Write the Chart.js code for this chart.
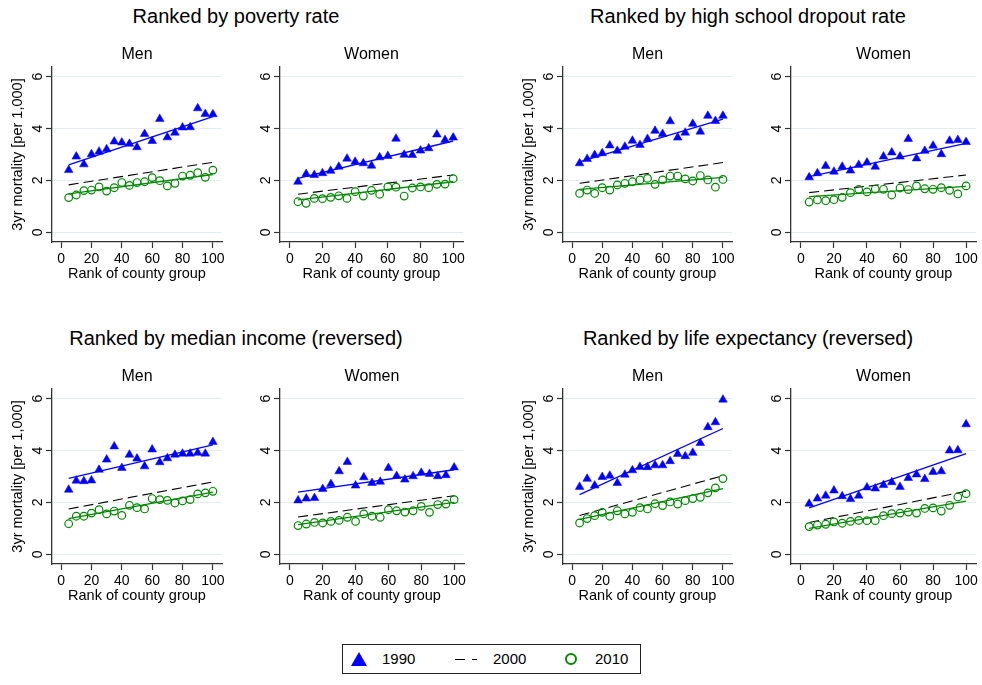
<!DOCTYPE html>
<html>
<head>
<meta charset="utf-8">
<script src="https://cdn.jsdelivr.net/npm/chart.js@4.4.1/dist/chart.umd.min.js"></script>
<style>
  body { margin: 0; background: #fff; font-family: "Liberation Sans", Arial, sans-serif; }
  #page { position: relative; width: 982px; height: 685px; overflow: hidden; background: #fff; }
  .bigtitle { position: absolute; width: 490px; text-align: center; font-size: 20px; line-height: 24px; color: #000; }
  canvas { position: absolute; }
  #legend { position: absolute; left: 342px; top: 644px; width: 299px; height: 30px; border: 1px solid #222; box-sizing: border-box; }
  #legend span { position: absolute; top: 0; line-height: 28px; font-size: 15px; color: #000; }
  .tri { position: absolute; width: 0; height: 0; border-left: 8.5px solid transparent; border-right: 8.5px solid transparent; border-bottom: 14px solid #0000ff; }
  .dash { position: absolute; height: 1.4px; background: #000; }
  .ring { position: absolute; width: 12px; height: 12px; border: 2.3px solid #008800; border-radius: 50%; box-sizing: border-box; }
</style>
</head>
<body>
<div id="page">
  <div class="bigtitle" style="left:-9px; top:4px;">Ranked by poverty rate</div>
  <div class="bigtitle" style="left:503px; top:4px;">Ranked by high school dropout rate</div>
  <div class="bigtitle" style="left:-9px; top:326px;">Ranked by median income (reversed)</div>
  <div class="bigtitle" style="left:503px; top:326px;">Ranked by life expectancy (reversed)</div>
  <div id="legend">
    <div class="tri" style="left:8px; top:7px;"></div>
    <span style="left:39px;">1990</span>
    <div class="dash" style="left:112px; top:14px; width:10px;"></div>
    <div class="dash" style="left:129px; top:14px; width:5px;"></div>
    <span style="left:150px;">2000</span>
    <div class="ring" style="left:222px; top:8px;"></div>
    <span style="left:252px;">2010</span>
  </div>
</div>
<script>
// rank of county group (x) and axis ticks
const rank = [5, 10, 15, 20, 25, 30, 35, 40, 45, 50, 55, 60, 65, 70, 75, 80, 85, 90, 95, 100];
const xTicks = [0, 20, 40, 60, 80, 100];
const yTicks = [0, 2, 4, 6];

// 3yr mortality per 1,000
const povertyMen1990 = [2.40, 2.92, 2.62, 3.01, 3.11, 3.20, 3.50, 3.46, 3.41, 3.28, 3.79, 3.52, 4.37, 3.66, 3.84, 4.04, 4.05, 4.78, 4.56, 4.55];
const povertyMen2010 = [1.34, 1.44, 1.61, 1.63, 1.75, 1.59, 1.72, 1.92, 1.81, 1.92, 1.95, 2.11, 1.99, 1.79, 1.89, 2.17, 2.20, 2.30, 2.12, 2.40];
const povertyWomen1990 = [1.95, 2.25, 2.21, 2.28, 2.37, 2.53, 2.84, 2.72, 2.66, 2.57, 2.89, 2.94, 3.61, 2.99, 2.98, 3.15, 3.24, 3.77, 3.56, 3.65];
const povertyWomen2010 = [1.18, 1.12, 1.31, 1.30, 1.35, 1.41, 1.31, 1.57, 1.40, 1.62, 1.47, 1.75, 1.74, 1.40, 1.71, 1.75, 1.72, 1.85, 1.86, 2.07];
const dropoutMen1990 = [2.66, 2.83, 2.98, 3.05, 3.35, 3.14, 3.30, 3.53, 3.37, 3.60, 3.91, 3.79, 4.28, 3.65, 3.84, 4.18, 3.88, 4.49, 4.29, 4.49];
const dropoutMen2010 = [1.50, 1.63, 1.50, 1.72, 1.63, 1.83, 1.89, 1.95, 2.02, 2.08, 1.85, 2.02, 2.17, 2.17, 2.06, 1.98, 2.19, 2.02, 1.74, 2.04];
const dropoutWomen1990 = [2.12, 2.28, 2.56, 2.34, 2.53, 2.38, 2.60, 2.69, 2.53, 2.92, 3.08, 2.92, 3.60, 2.85, 3.14, 3.34, 3.01, 3.53, 3.56, 3.48];
const dropoutWomen2010 = [1.17, 1.25, 1.22, 1.26, 1.35, 1.53, 1.66, 1.56, 1.67, 1.66, 1.44, 1.71, 1.65, 1.79, 1.68, 1.66, 1.72, 1.62, 1.48, 1.79];
const incomeMen1990 = [2.49, 2.84, 2.82, 2.85, 3.26, 3.65, 4.16, 3.33, 3.84, 3.69, 3.39, 4.04, 3.55, 3.70, 3.84, 3.88, 3.88, 3.91, 3.88, 4.33];
const incomeMen2010 = [1.18, 1.47, 1.47, 1.59, 1.72, 1.56, 1.67, 1.50, 1.89, 1.80, 1.75, 2.15, 2.11, 2.08, 1.98, 2.06, 2.11, 2.33, 2.37, 2.43];
const incomeWomen1990 = [2.08, 2.15, 2.17, 2.52, 2.71, 3.20, 3.56, 2.65, 2.97, 2.75, 2.80, 3.33, 3.02, 2.88, 3.01, 3.14, 3.10, 3.01, 3.05, 3.35];
const incomeWomen2010 = [1.11, 1.17, 1.23, 1.21, 1.27, 1.31, 1.43, 1.27, 1.56, 1.47, 1.43, 1.72, 1.68, 1.63, 1.68, 1.85, 1.62, 1.92, 1.94, 2.11];
const lifeMen1990 = [2.60, 2.91, 2.65, 2.98, 3.03, 2.75, 3.07, 3.24, 3.37, 3.36, 3.43, 3.43, 3.59, 3.87, 3.78, 3.91, 4.29, 4.90, 5.09, 5.96];
const lifeMen2010 = [1.21, 1.38, 1.49, 1.62, 1.47, 1.68, 1.56, 1.62, 1.80, 1.75, 1.95, 1.88, 2.02, 1.94, 2.07, 2.15, 2.20, 2.37, 2.56, 2.92];
const lifeWomen1990 = [1.95, 2.15, 2.26, 2.46, 2.24, 2.13, 2.26, 2.58, 2.54, 2.67, 2.78, 2.60, 2.94, 3.08, 2.90, 3.17, 3.20, 4.00, 4.01, 5.01];
const lifeWomen2010 = [1.07, 1.13, 1.16, 1.25, 1.20, 1.27, 1.31, 1.30, 1.30, 1.49, 1.57, 1.59, 1.63, 1.59, 1.77, 1.79, 1.67, 1.89, 2.21, 2.34];

// fitted lines, value at rank 5 and rank 100: [1990, 2000, 2010]
const fitX = [5, 100];
const povertyMenFits = [[2.60, 4.46], [1.83, 2.70], [1.48, 2.23]];
const povertyWomenFits = [[2.08, 3.52], [1.47, 2.21], [1.25, 1.95]];
const dropoutMenFits = [[2.72, 4.36], [1.89, 2.69], [1.66, 2.12]];
const dropoutWomenFits = [[2.15, 3.43], [1.53, 2.21], [1.38, 1.77]];
const incomeMenFits = [[2.93, 4.22], [1.75, 2.79], [1.38, 2.40]];
const incomeWomenFits = [[2.40, 3.26], [1.44, 2.26], [1.15, 2.00]];
const lifeMenFits = [[2.30, 4.85], [1.50, 3.03], [1.35, 2.53]];
const lifeWomenFits = [[1.79, 3.88], [1.23, 2.43], [1.00, 2.05]];

const BLUE = '#0000ff';
const GREEN = '#008800';
const AXIS = '#333333';
const GRID = '#e3ecef';
const FONT = '"Liberation Sans", Arial, sans-serif';

Chart.defaults.font.family = FONT;
Chart.defaults.color = '#000';

// panel placement: plot area edges in page pixels
const panels = [
    { label: 'Men', yTitle: true, left: 52, right: 222, top: 67, bottom: 242, s90: povertyMen1990, s10: povertyMen2010, fits: povertyMenFits },
    { label: 'Women', yTitle: false, left: 280, right: 463, top: 67, bottom: 242, s90: povertyWomen1990, s10: povertyWomen2010, fits: povertyWomenFits },
    { label: 'Men', yTitle: true, left: 563, right: 732, top: 67, bottom: 242, s90: dropoutMen1990, s10: dropoutMen2010, fits: dropoutMenFits },
    { label: 'Women', yTitle: false, left: 791, right: 976, top: 67, bottom: 242, s90: dropoutWomen1990, s10: dropoutWomen2010, fits: dropoutWomenFits },
    { label: 'Men', yTitle: true, left: 52, right: 222, top: 389, bottom: 564, s90: incomeMen1990, s10: incomeMen2010, fits: incomeMenFits },
    { label: 'Women', yTitle: false, left: 280, right: 464, top: 389, bottom: 564, s90: incomeWomen1990, s10: incomeWomen2010, fits: incomeWomenFits },
    { label: 'Men', yTitle: true, left: 563, right: 732, top: 389, bottom: 564, s90: lifeMen1990, s10: lifeMen2010, fits: lifeMenFits },
    { label: 'Women', yTitle: false, left: 791, right: 976, top: 389, bottom: 564, s90: lifeWomen1990, s10: lifeWomen2010, fits: lifeWomenFits }
];

// subtitle, rotated y tick labels and y title
const panelText = {
    id: 'panelText',
    afterDraw(chart, args, opts) {
        const ctx = chart.ctx;
        const a = chart.chartArea;
        const ys = chart.scales.y;
        ctx.save();
        ctx.fillStyle = '#000';
        ctx.textAlign = 'center';
        ctx.textBaseline = 'middle';
        ctx.font = '16px ' + FONT;
        ctx.fillText(opts.label, (a.left + a.right) / 2, a.top - 12);
        ctx.font = '14px ' + FONT;
        yTicks.forEach(v => {
            ctx.save();
            ctx.translate(a.left - 14, ys.getPixelForValue(v));
            ctx.rotate(-Math.PI / 2);
            ctx.fillText(String(v), 0, 0);
            ctx.restore();
        });
        if (opts.yTitle) {
            ctx.font = '14.5px ' + FONT;
            ctx.translate(a.left - 34, (a.top + a.bottom) / 2);
            ctx.rotate(-Math.PI / 2);
            ctx.fillText('3yr mortality [per 1,000]', 0, 0);
        }
        ctx.restore();
    }
};

function toPoints(values) {
    return rank.map((x, i) => ({ x: x, y: values[i] }));
}

function fitLine(pair) {
    return fitX.map((x, i) => ({ x: x, y: pair[i] }));
}

function makePanel(p) {
    const padTop = 28, padRight = 6, yW = 52, xH = 42;
    const cl = p.left - yW;
    const ct = p.top - padTop;
    const w = p.right + padRight - cl;
    const h = p.bottom + xH - ct;

    const canvas = document.createElement('canvas');
    canvas.style.left = cl + 'px';
    canvas.style.top = ct + 'px';
    canvas.width = w;
    canvas.height = h;
    document.getElementById('page').appendChild(canvas);

    new Chart(canvas, {
        type: 'scatter',
        data: {
            datasets: [{
                label: '1990',
                data: toPoints(p.s90),
                pointStyle: 'triangle',
                pointRadius: 5,
                backgroundColor: BLUE,
                borderColor: BLUE,
                borderWidth: 0.5
            }, {
                label: '2010',
                data: toPoints(p.s10),
                pointStyle: 'circle',
                pointRadius: 3.8,
                backgroundColor: 'rgba(0,0,0,0)',
                borderColor: GREEN,
                borderWidth: 1.2
            }, {
                label: 'fit 1990',
                data: fitLine(p.fits[0]),
                showLine: true,
                pointRadius: 0,
                borderColor: BLUE,
                borderWidth: 1.3
            }, {
                label: 'fit 2000',
                data: fitLine(p.fits[1]),
                showLine: true,
                pointRadius: 0,
                borderColor: '#000',
                borderWidth: 1.1,
                borderDash: [10, 5]
            }, {
                label: 'fit 2010',
                data: fitLine(p.fits[2]),
                showLine: true,
                pointRadius: 0,
                borderColor: GREEN,
                borderWidth: 1.3
            }]
        },
        options: {
            responsive: false,
            animation: false,
            layout: { padding: { top: padTop, right: padRight, left: 0, bottom: 0 } },
            plugins: {
                legend: { display: false },
                tooltip: { enabled: false },
                panelText: { label: p.label, yTitle: p.yTitle }
            },
            scales: {
                x: {
                    type: 'linear',
                    min: -6,
                    max: 106,
                    afterBuildTicks: s => { s.ticks = xTicks.map(v => ({ value: v })); },
                    afterFit: s => { s.height = xH; },
                    grid: { drawOnChartArea: false, drawTicks: true, tickLength: 6, tickColor: AXIS, tickWidth: 1.2 },
                    border: { color: AXIS, width: 1.3 },
                    ticks: { font: { size: 14 }, color: '#000', padding: 3, maxRotation: 0 },
                    title: { display: true, text: 'Rank of county group', font: { size: 14.5 }, color: '#000', padding: { top: 0, bottom: 1 } }
                },
                y: {
                    type: 'linear',
                    min: -0.37,
                    max: 6.37,
                    afterBuildTicks: s => { s.ticks = yTicks.map(v => ({ value: v })); },
                    afterFit: s => { s.width = yW; },
                    grid: { color: GRID, lineWidth: 1, drawTicks: true, tickLength: 6, tickColor: AXIS, tickWidth: 1.2 },
                    border: { color: AXIS, width: 1.3 },
                    ticks: { display: false }
                }
            }
        },
        plugins: [panelText]
    });
}

panels.forEach(makePanel);
</script>
</body>
</html>
